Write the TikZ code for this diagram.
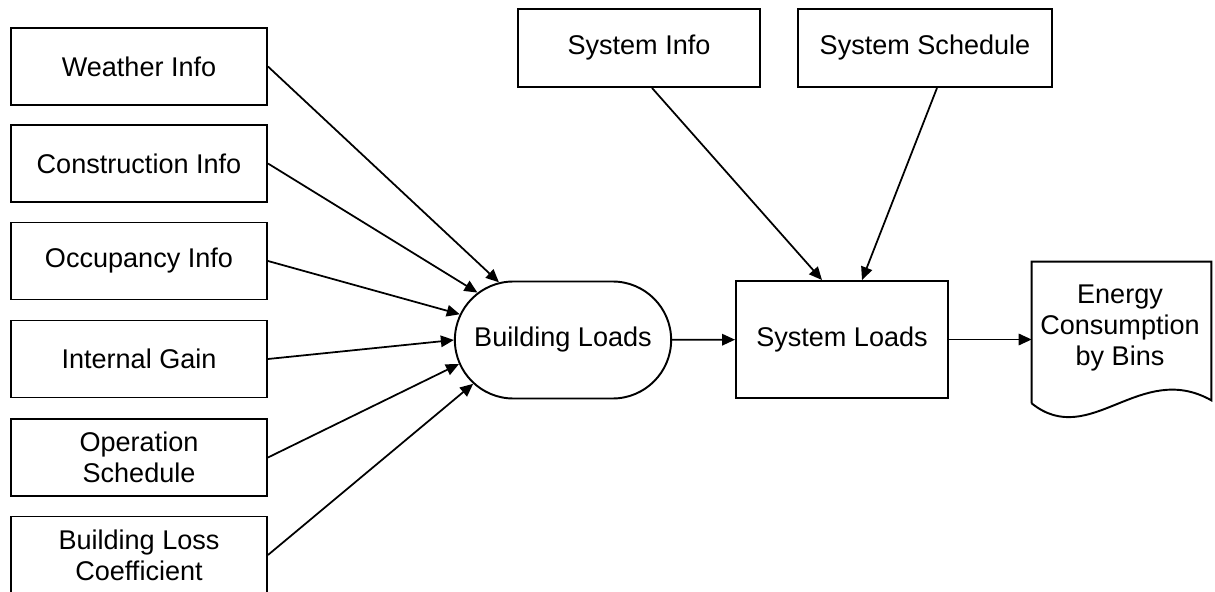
\documentclass[tikz,border=0pt]{standalone}
\usepackage{fontspec}
\setmainfont{Liberation Sans}
\usetikzlibrary{arrows.meta, positioning, shapes.misc}

\begin{document}
\begin{tikzpicture}[
    font=\fontsize{15.4}{17.8}\selectfont,
    inbox/.style={draw, line width=1.1pt, minimum width=5.12cm,
        minimum height=1.54cm, align=center},
    proc/.style={draw, line width=1.1pt, minimum width=4.24cm,
        minimum height=2.34cm, align=center},
    term/.style={draw, line width=1.1pt, rounded rectangle,
        minimum width=4.56cm, minimum height=2.34cm, align=center},
    arrow/.style={-{Triangle[length=2.6mm, width=2.3mm]}, line width=1pt}
]
\useasboundingbox (0,0) rectangle (24.3,-11.84);

% Inputs
\node[inbox] (weather) at (2.78,-1.33) {Weather Info};
\node[inbox] (constr) at (2.78,-3.27) {Construction Info};
\node[inbox] (occup) at (2.78,-5.22) {Occupancy Info};
\node[inbox] (gain) at (2.78,-7.18) {Internal Gain};
\node[inbox] (opsched) at (2.78,-9.15) {Operation\\Schedule};
\node[inbox] (lossc) at (2.78,-11.1) {Building Loss\\Coefficient};

% System data
\node[inbox, minimum width=4.84cm, minimum height=1.56cm] (sysinfo) at (12.78,-0.96) {System Info};
\node[inbox, minimum width=5.08cm, minimum height=1.56cm] (syssched) at (18.5,-0.96) {System Schedule};

% Processing
\node[term] (bload) at (11.26,-6.8) {Building Loads};
\node[proc] (sload) at (16.84,-6.79) {System Loads};

% Output document
\node[minimum width=3.58cm, minimum height=2.82cm] (energy) at (22.43,-6.65) {};
\node[align=center] (energytxt) at (22.4,-6.56) {Energy\\Consumption\\by Bins};
\draw[line width=1.1pt] (energy.south west) -- (energy.north west) -- (energy.north east)
    -- ([yshift=0.06cm]energy.south east)
    .. controls (22.8,-7.2) and (21.8,-9.0) .. (energy.south west);

% Loads from inputs
\draw[arrow] (weather.east) -- (bload.138);
\draw[arrow] (constr.east) -- (bload.151);
\draw[arrow] (occup.east) -- (bload.166);
\draw[arrow] (gain.east) -- (bload.180);
\draw[arrow] (opsched.east) -- (bload.193);
\draw[arrow] (lossc.east) -- (bload.206);

% Main flow
\draw[arrow] (bload) -- (sload);
\draw[arrow] (sload) -- (energy.west |- sload);
\draw[arrow] ([xshift=0.26cm]sysinfo.south) -- ([xshift=-0.4cm]sload.north);
\draw[arrow] ([xshift=0.24cm]syssched.south) -- ([xshift=0.4cm]sload.north);

\end{tikzpicture}
\end{document}
